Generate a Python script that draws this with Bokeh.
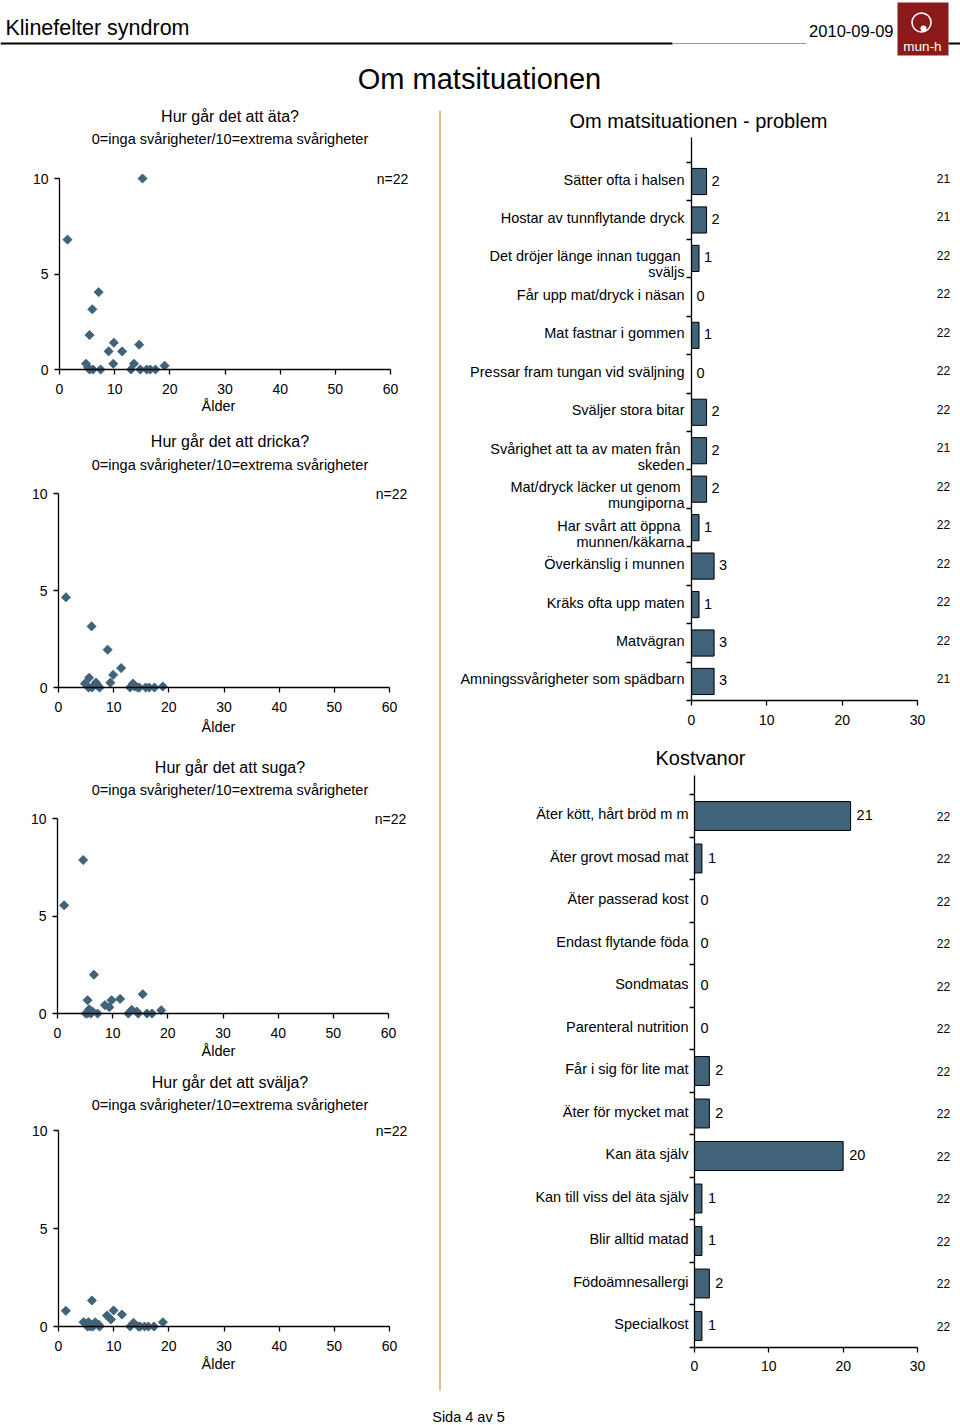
import numpy as np
from bokeh.plotting import figure
from bokeh.layouts import column, row
from bokeh.models import (Range1d, FixedTicker, Label, LabelSet, ColumnDataSource,
                          CustomJSTickFormatter)
from bokeh.core.properties import value
from bokeh.embed import file_html
from bokeh.resources import INLINE

FONT = "Liberation Sans"
BAR_COLOR = "#41637A"
DOT_COLOR = "#41637A"
TAN = "#D3C189"
LOGO = "#8B1A1A"

# ---------------- data ----------------
page_header = "Klinefelter syndrom"
page_date = "2010-09-09"
page_title = "Om matsituationen"
page_footer = "Sida 4 av 5"

scatter_titles = ["Hur går det att äta?", "Hur går det att dricka?",
                  "Hur går det att suga?", "Hur går det att svälja?"]
scale_note = "0=inga svårigheter/10=extrema svårigheter"
n_text = "n=22"
age_label = "Ålder"
age_ticks = [0, 10, 20, 30, 40, 50, 60]
score_ticks = [0, 5, 10]

ata_age = [1.45, 4.8, 5.2, 5.45, 5.45, 5.95, 6.05, 7.1, 7.45, 8.9, 9.75, 9.85,
           11.35, 12.95, 13.5, 14.45, 14.65, 15.05, 15.8, 16.45, 17.4, 19.05]
ata_score = [6.8, 0.3, 0.1, 1.8, 0.0, 3.15, 0.0, 4.05, 0.0, 0.95, 0.3, 1.4,
             0.95, 0.0, 0.3, 1.3, 0.0, 10.0, 0.0, 0.0, 0.0, 0.2]

dricka_age = [1.35, 4.8, 5.45, 5.55, 6.0, 6.05, 6.8, 7.1, 7.45, 8.9, 9.4, 9.9,
              11.35, 12.95, 13.5, 13.8, 14.35, 14.65, 15.8, 16.45, 17.4, 18.9]
dricka_score = [4.65, 0.2, 0.0, 0.5, 3.15, 0.0, 0.25, 0.1, 0.0, 1.95, 0.25, 0.65,
                1.0, 0.0, 0.2, 0.05, 0.0, 0.0, 0.0, 0.0, 0.0, 0.05]

suga_age = [1.2, 4.65, 5.1, 5.45, 5.45, 5.75, 6.05, 6.35, 6.6, 7.27, 8.6, 9.4,
            9.8, 11.35, 12.85, 13.45, 14.35, 14.65, 15.45, 16.2, 17.15, 18.8]
suga_score = [5.55, 7.87, 0.0, 0.68, 0.0, 0.22, 0.0, 0.1, 1.99, 0.0, 0.43, 0.32,
              0.68, 0.75, 0.0, 0.19, 0.1, 0.0, 0.99, 0.0, 0.0, 0.17]

svalja_age = [1.33, 4.54, 5.26, 5.44, 5.75, 6.05, 6.23, 6.65, 7.26, 7.44, 8.77, 9.5,
              9.98, 11.49, 13.0, 13.6, 14.5, 14.8, 15.6, 16.3, 17.3, 18.93]
svalja_score = [0.8, 0.22, 0.0, 0.22, 0.0, 1.33, 0.0, 0.22, 0.1, 0.0, 0.56, 0.36,
                0.82, 0.61, 0.0, 0.19, 0.0, 0.0, 0.0, 0.0, 0.0, 0.22]

problem_title = "Om matsituationen - problem"
problem_labels = ["Sätter ofta i halsen", "Hostar av tunnflytande dryck",
                  "Det dröjer länge innan tuggan\nsväljs", "Får upp mat/dryck i näsan",
                  "Mat fastnar i gommen", "Pressar fram tungan vid sväljning",
                  "Sväljer stora bitar", "Svårighet att ta av maten från\nskeden",
                  "Mat/dryck läcker ut genom\nmungiporna", "Har svårt att öppna\nmunnen/käkarna",
                  "Överkänslig i munnen", "Kräks ofta upp maten", "Matvägran",
                  "Amningssvårigheter som spädbarn"]
problem_values = [2, 2, 1, 0, 1, 0, 2, 2, 2, 1, 3, 1, 3, 3]
problem_n = [21, 21, 22, 22, 22, 22, 22, 21, 22, 22, 22, 22, 22, 21]

kost_title = "Kostvanor"
kost_labels = ["Äter kött, hårt bröd m m", "Äter grovt mosad mat", "Äter passerad kost",
               "Endast flytande föda", "Sondmatas", "Parenteral nutrition",
               "Får i sig för lite mat", "Äter för mycket mat", "Kan äta själv",
               "Kan till viss del äta själv", "Blir alltid matad", "Födoämnesallergi",
               "Specialkost"]
kost_values = [21, 1, 0, 0, 0, 0, 2, 2, 20, 1, 1, 2, 1]
kost_n = [22, 22, 22, 22, 22, 22, 22, 22, 22, 22, 22, 22, 22]
count_ticks = [0, 10, 20, 30]

LEFT_W = 438
DIV_W = 4
RIGHT_W = 518


def style_axis(ax):
    ax.axis_line_color = "black"
    ax.axis_line_width = 1.3
    ax.major_tick_line_color = "black"
    ax.major_tick_line_width = 1.3
    ax.major_tick_out = 5
    ax.major_tick_in = 0
    ax.minor_tick_line_color = None
    ax.major_label_text_font = FONT
    ax.major_label_text_font_size = "14px"
    ax.major_label_text_color = "black"


def base_fig(**kw):
    p = figure(output_backend="svg", toolbar_location=None, min_border=0, **kw)
    p.outline_line_color = None
    p.background_fill_color = "white"
    p.border_fill_color = "white"
    p.grid.visible = False
    return p


def make_scatter(title, ages, scores, top, bottom, x0px, x60px, y10px, y0px,
                 title_px, sub_px, alder_px):
    ppx = (x60px - x0px) / 60.0
    ppy = (y0px - y10px) / 10.0
    p = base_fig(width=LEFT_W, height=bottom - top,
                 x_range=Range1d(-x0px / ppx, (LEFT_W - x0px) / ppx),
                 y_range=Range1d(-(bottom - y0px) / ppy, 10 + (y10px - top) / ppy))
    p.scatter(ages, scores, marker="square", angle=np.pi / 4, size=6.4,
              fill_color=DOT_COLOR, line_color=DOT_COLOR)
    xa = p.xaxis[0]
    ya = p.yaxis[0]
    for ax in (xa, ya):
        style_axis(ax)
        ax.fixed_location = 0
    xa.ticker = FixedTicker(ticks=age_ticks)
    xa.bounds = (0, 60)
    xa.major_label_standoff = 9
    ya.ticker = FixedTicker(ticks=score_ticks)
    ya.bounds = (0, 10)
    ya.major_label_standoff = 6
    cx = (229.5 - x0px) / ppx
    p.add_layout(Label(x=cx, y=10, y_offset=y10px - title_px, text=title, text_font=FONT,
                       text_font_size="16px", text_align="center", text_baseline="middle",
                       text_color="black"))
    p.add_layout(Label(x=cx, y=10, y_offset=y10px - sub_px, text=scale_note, text_font=FONT,
                       text_font_size="14.5px", text_align="center", text_baseline="middle",
                       text_color="black"))
    p.add_layout(Label(x=60, y=10, x_offset=2, text=n_text, text_font=FONT,
                       text_font_size="14px", text_align="center", text_baseline="middle",
                       text_color="black"))
    p.add_layout(Label(x=(218 - x0px) / ppx, y=0, y_offset=y0px - alder_px, text=age_label,
                       text_font=FONT, text_font_size="14.5px", text_align="center",
                       text_baseline="middle", text_color="black"))
    return p


def make_bars(title, labels, values, counts, top, bottom, x0px, ppx, c0px, band,
              axis_top_px, lab_off, val_off, cnt_off, title_xy):
    n = len(labels)
    idx = list(range(n))
    to_i = lambda py: (py - c0px) / band
    to_x = lambda px: (px - x0px) / ppx
    p = base_fig(width=RIGHT_W, height=bottom - top,
                 x_range=Range1d(to_x(LEFT_W + DIV_W), to_x(LEFT_W + DIV_W + RIGHT_W)),
                 y_range=Range1d(to_i(bottom), to_i(top)))
    p.hbar(y=idx, left=0, right=values, height=0.68, fill_color=BAR_COLOR,
           line_color="black", line_width=1)
    xa = p.xaxis[0]
    ya = p.yaxis[0]
    style_axis(xa)
    style_axis(ya)
    xa.fixed_location = n - 0.5
    xa.ticker = FixedTicker(ticks=count_ticks)
    xa.bounds = (0, 30)
    xa.major_label_standoff = 9
    ya.fixed_location = 0
    ya.bounds = (to_i(axis_top_px), n - 0.5)
    ya.ticker = FixedTicker(ticks=[i - 0.5 for i in range(n + 1)])
    ya.formatter = CustomJSTickFormatter(code="return ''")

    line1, off1, y2, l2 = [], [], [], []
    for i, lab in enumerate(labels):
        parts = lab.split("\n")
        line1.append(parts[0])
        off1.append(lab_off - (4 if len(parts) > 1 else 0))
        if len(parts) > 1:
            y2.append(i)
            l2.append(parts[1])
    src1 = ColumnDataSource(dict(x=[0] * n, y=idx, text=line1, xo=off1))
    p.add_layout(LabelSet(source=src1, x="x", y="y", text="text", x_offset="xo", y_offset=2,
                          text_align="right", text_baseline="middle", text_font=value(FONT),
                          text_font_size="14.5px", text_color="black"))
    if l2:
        src2 = ColumnDataSource(dict(x=[0] * len(l2), y=y2, text=l2))
        p.add_layout(LabelSet(source=src2, x="x", y="y", text="text", x_offset=lab_off,
                              y_offset=-14, text_align="right", text_baseline="middle",
                              text_font=value(FONT), text_font_size="14.5px",
                              text_color="black"))
    srcv = ColumnDataSource(dict(x=values, y=idx, text=[str(v) for v in values]))
    p.add_layout(LabelSet(source=srcv, x="x", y="y", text="text", x_offset=val_off, y_offset=1,
                          text_align="left", text_baseline="middle", text_font=value(FONT),
                          text_font_size="14.5px", text_color="black"))
    srcc = ColumnDataSource(dict(x=[to_x(943)] * n, y=idx, text=[str(c) for c in counts]))
    p.add_layout(LabelSet(source=srcc, x="x", y="y", text="text", y_offset=cnt_off,
                          text_align="center", text_baseline="middle", text_font=value(FONT),
                          text_font_size="12px", text_color="black"))
    p.add_layout(Label(x=to_x(title_xy[0]), y=to_i(title_xy[1]), text=title, text_font=FONT,
                       text_font_size="20px", text_align="center", text_baseline="middle",
                       text_color="black"))
    return p


# ---------------- header ----------------
hdr = base_fig(width=960, height=100, x_range=Range1d(0, 960), y_range=Range1d(100, 0),
               x_axis_location=None, y_axis_location=None)
hdr.segment(x0=[0, 672, 948], y0=[43, 43, 43], x1=[672, 806, 960], y1=[43, 43, 43],
            line_color=["black", "#9a9a9a", "black"], line_width=[2, 1, 2])
hdr.quad(left=[897], right=[948], top=[2], bottom=[55], fill_color=LOGO, line_color=None)
hdr.scatter([921], [22], marker="circle", size=19, fill_color=None, line_color="white",
            line_width=1.6)
hdr.scatter([923], [28], marker="circle", size=6, fill_color="white", line_color=None)
hdr.text(x=[922], y=[46], text=["mun-h"], text_font=value(FONT), text_font_size=value("13.5px"),
         text_align="center", text_baseline="middle", text_color="white")
hdr.text(x=[5], y=[27], text=[page_header], text_font=value(FONT),
         text_font_size=value("21.5px"), text_align="left", text_baseline="middle",
         text_color="black")
hdr.text(x=[893], y=[30], text=[page_date], text_font=value(FONT),
         text_font_size=value("16.5px"), text_align="right", text_baseline="middle",
         text_color="black")
hdr.text(x=[479], y=[78], text=[page_title], text_font=value(FONT),
         text_font_size=value("29px"), text_align="center", text_baseline="middle",
         text_color="black")

# ---------------- left column ----------------
s1 = make_scatter(scatter_titles[0], ata_age, ata_score, 100, 428, 59, 390, 178, 369, 116, 138, 405)
s2 = make_scatter(scatter_titles[1], dricka_age, dricka_score, 428, 745, 58, 389, 493, 687, 441, 464, 726)
s3 = make_scatter(scatter_titles[2], suga_age, suga_score, 745, 1068, 57, 388, 818, 1013, 767, 789, 1050)
s4 = make_scatter(scatter_titles[3], svalja_age, svalja_score, 1068, 1400, 58, 389, 1130, 1326, 1082, 1104, 1363)
left = column(s1, s2, s3, s4, spacing=0)

# ---------------- divider ----------------
div = base_fig(width=DIV_W, height=1300, x_range=Range1d(0, 4), y_range=Range1d(1400, 100),
               x_axis_location=None, y_axis_location=None)
div.segment(x0=[1.5], y0=[110], x1=[1.5], y1=[1390], line_color=TAN, line_width=2)

# ---------------- right column ----------------
b1 = make_bars(problem_title, problem_labels, problem_values, problem_n,
               top=100, bottom=740, x0px=691, ppx=226 / 30.0, c0px=181, band=38.46,
               axis_top_px=137, lab_off=-7, val_off=5, cnt_off=3, title_xy=(698, 120))
b2 = make_bars(kost_title, kost_labels, kost_values, kost_n,
               top=740, bottom=1400, x0px=694, ppx=223 / 30.0, c0px=815.5, band=42.5,
               axis_top_px=775, lab_off=-6, val_off=6, cnt_off=0, title_xy=(700, 757))
right = column(b1, b2, spacing=0)

# ---------------- footer ----------------
ftr = base_fig(width=960, height=24, x_range=Range1d(0, 960), y_range=Range1d(1424, 1400),
               x_axis_location=None, y_axis_location=None)
ftr.text(x=[468], y=[1416], text=[page_footer], text_font=value(FONT),
         text_font_size=value("14.5px"), text_align="center", text_baseline="middle",
         text_color="black")

layout = column(hdr, row(left, div, right, spacing=0), ftr, spacing=0)

open("out.html", "w").write(file_html(layout, INLINE))
